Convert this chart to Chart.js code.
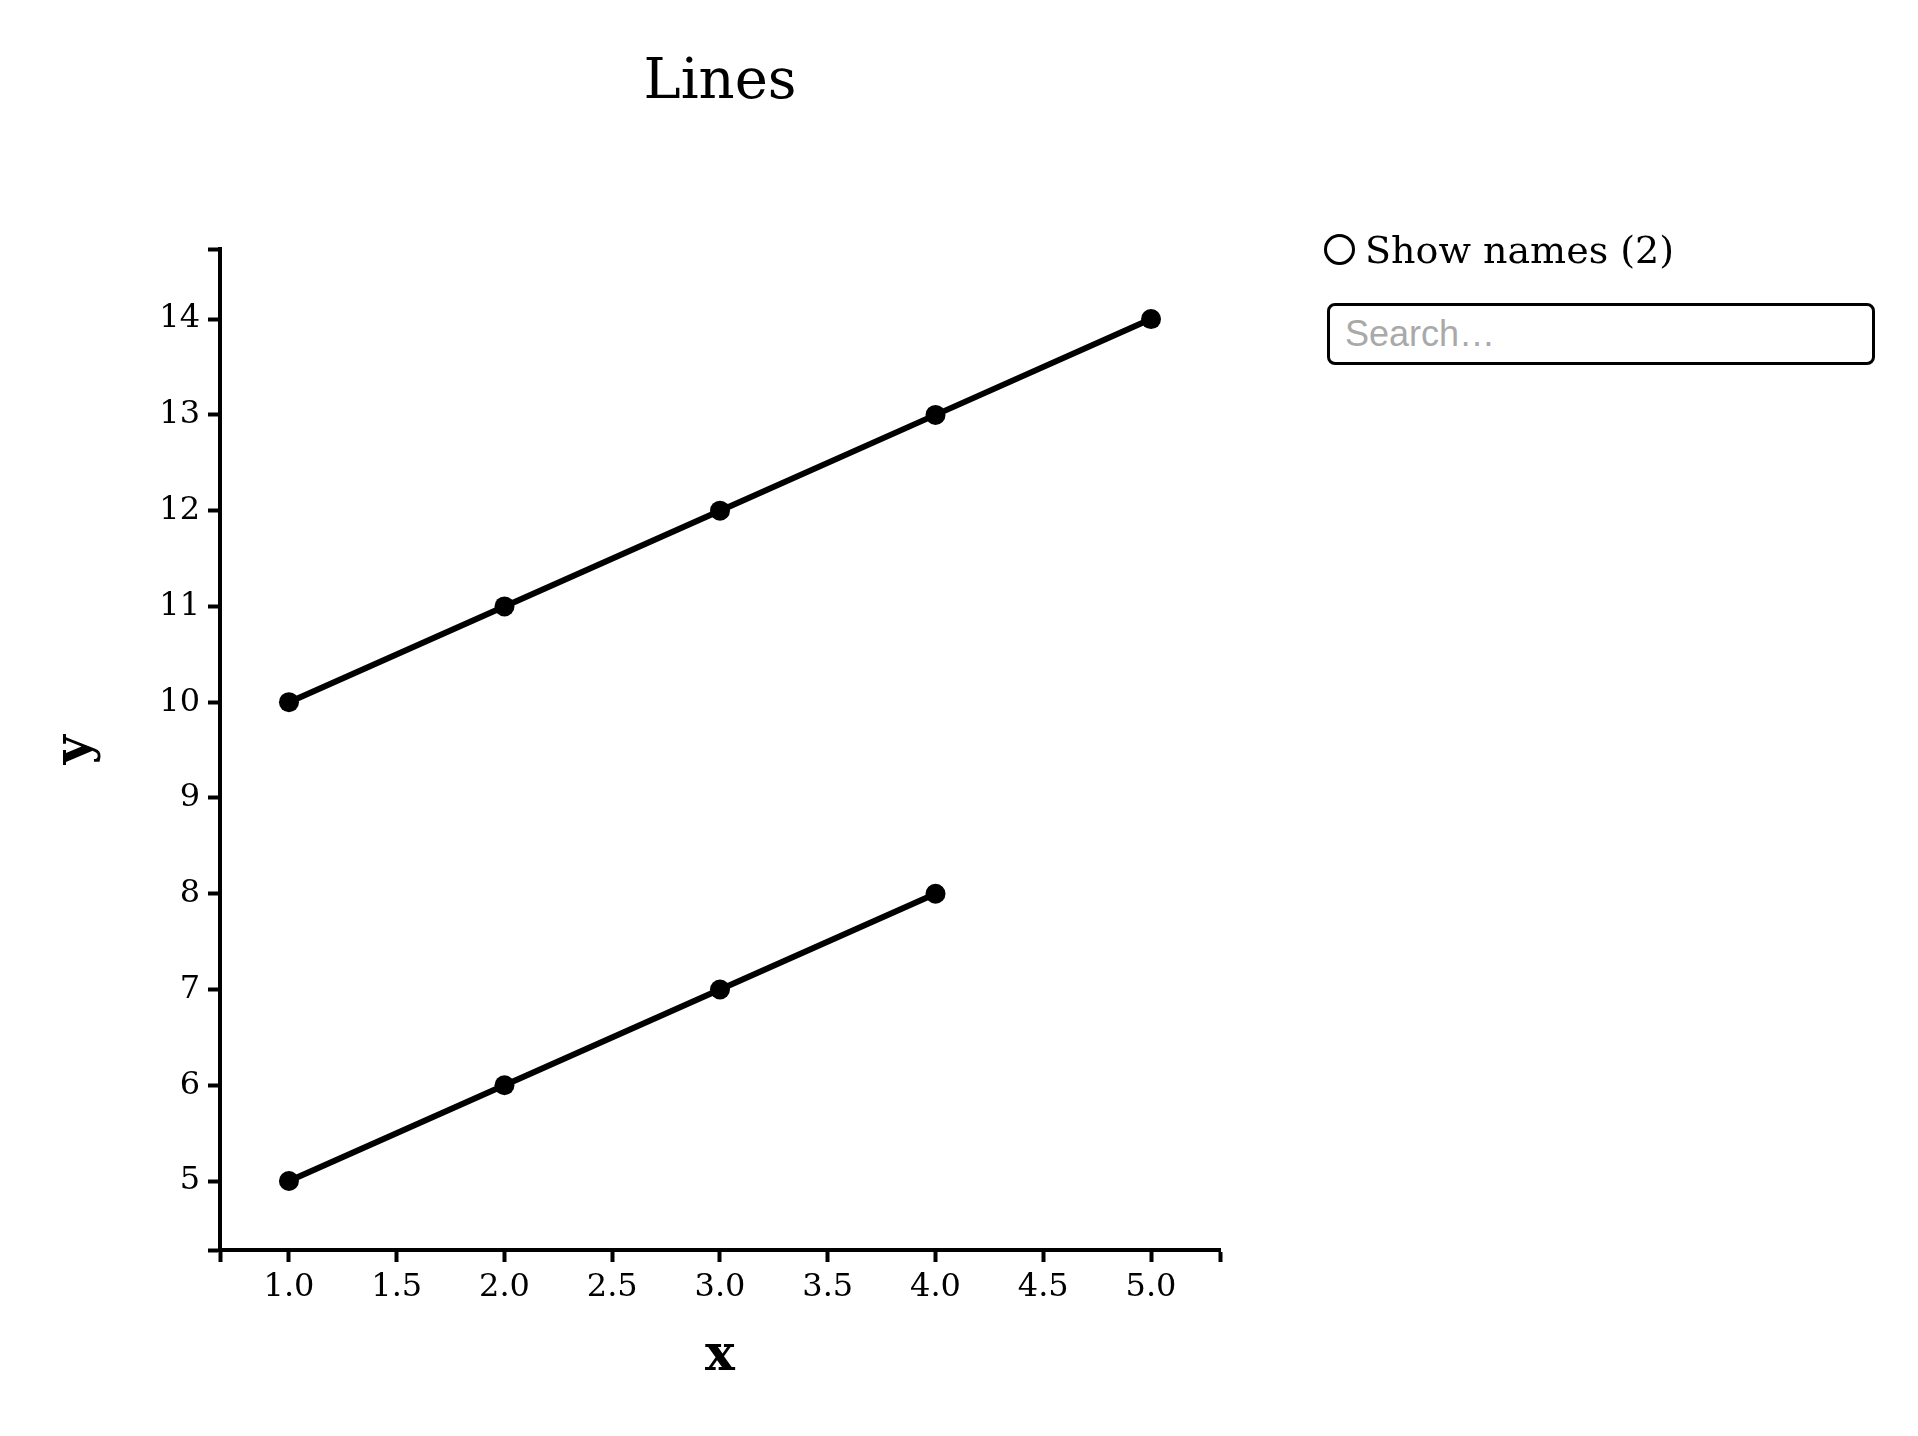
<!DOCTYPE html>
<html>
<head>
<meta charset="utf-8">
<script src="https://cdn.jsdelivr.net/npm/chart.js@4/dist/chart.umd.min.js"></script>
<style>
	html, body { margin: 0; padding: 0; background: #fff; }
	#wrap { position: relative; width: 1918px; height: 1436px; }
	#chartBox { position: absolute; left: 0; top: 0; width: 1440px; height: 1436px; }
	#panel { position: absolute; left: 1324px; top: 0; }
	.dot { position: absolute; left: 0; top: 234px; width: 31px; height: 31px; box-sizing: border-box;
		border: 3px solid #000; border-radius: 50%; }
	.names { position: absolute; left: 41px; top: 231px; font: 38px/1 "DejaVu Serif", serif; color: #000; white-space: nowrap; }
	#search { position: absolute; left: 3px; top: 303px; width: 548px; height: 62px; box-sizing: border-box;
		border: 3px solid #000; border-radius: 8px; padding: 0 0 0 15px; outline: none;
		font: 36px "Liberation Sans", Arial, sans-serif; color: #000; }
	#search::placeholder { color: #a9a9a9; }
</style>
</head>
<body>
<div id="wrap">
	<div id="chartBox"><canvas id="lineChart"></canvas></div>
	<div id="panel">
		<div class="dot"></div>
		<div class="names">Show names (2)</div>
		<input id="search" type="text" placeholder="Search…">
	</div>
</div>
<script>
// data
var upperX = [1, 2, 3, 4, 5];
var upperY = [10, 11, 12, 13, 14];
var lowerX = [1, 2, 3, 4];
var lowerY = [5, 6, 7, 8];
var xTicks = [1.0, 1.5, 2.0, 2.5, 3.0, 3.5, 4.0, 4.5, 5.0];
var yTicks = [5, 6, 7, 8, 9, 10, 11, 12, 13, 14];
var xRange = [0.68, 5.32];
var yRange = [4.28, 14.73];

var serif = '"DejaVu Serif", serif';

function points(xs, ys) {
	return xs.map(function (x, i) { return {x: x, y: ys[i]}; });
}

// ticks plus the two outer end ticks (no label on those)
function withEnds(values, range) {
	return [range[0]].concat(values, [range[1]]).map(function (v) { return {value: v}; });
}

function axis(range, values, fmt, titleText, titleOpts, fit) {
	return {
		type: 'linear',
		min: range[0],
		max: range[1],
		afterBuildTicks: function (scale) { scale.ticks = withEnds(values, range); },
		afterFit: fit,
		border: {display: true, color: '#000', width: 4},
		grid: {drawOnChartArea: false, drawTicks: true, tickLength: 12, tickWidth: 4, tickColor: '#000'},
		ticks: {
			color: '#000',
			font: {family: serif, size: 32},
			padding: titleOpts.tickPad,
			maxRotation: 0,
			autoSkip: false,
			callback: function (v) { return values.indexOf(v) < 0 ? '' : fmt(v); }
		},
		title: {
			display: true,
			text: titleText,
			color: '#000',
			font: {family: serif, size: 50, weight: 'bold', lineHeight: 1.2},
			padding: titleOpts.pad
		}
	};
}

function chart(id, type, data, options) {
	var canvas = document.getElementById(id);
	var ctx = canvas.getContext('2d');
	new Chart(ctx, {
		type: type,
		data: data,
		options: options
	});
}

var lineData = {
	datasets: [{
		label: 'upper',
		data: points(upperX, upperY),
		borderColor: '#000',
		backgroundColor: '#000',
		borderWidth: 6,
		pointRadius: 10,
		pointBorderWidth: 0,
		showLine: true
	}, {
		label: 'lower',
		data: points(lowerX, lowerY),
		borderColor: '#000',
		backgroundColor: '#000',
		borderWidth: 6,
		pointRadius: 10,
		pointBorderWidth: 0,
		showLine: true
	}]
};

var lineOptions = {
	responsive: true,
	maintainAspectRatio: false,
	animation: false,
	layout: {padding: 0},
	plugins: {
		legend: {display: false},
		tooltip: {enabled: false},
		title: {
			display: true,
			text: 'Lines',
			color: '#000',
			font: {family: serif, size: 56, weight: 'normal', lineHeight: 1.2},
			padding: {top: 50, bottom: 132}
		}
	},
	scales: {
		x: axis(xRange, xTicks, function (v) { return v.toFixed(1); }, 'x',
			{tickPad: 6, pad: {top: 0, bottom: 49}},
			function (s) { s.height = 186; }),
		y: axis(yRange, yTicks, function (v) { return String(v); }, 'y',
			{tickPad: 8, pad: {top: 46, bottom: 0}},
			function (s) { s.width = 220; }),
		// empty right-hand box so the title centres over the plot
		spacer: {
			type: 'linear',
			position: 'right',
			display: true,
			border: {display: false},
			grid: {display: false},
			ticks: {display: false},
			afterFit: function (s) { s.width = 220; }
		}
	}
};

chart('lineChart', 'scatter', lineData, lineOptions);
</script>
</body>
</html>
